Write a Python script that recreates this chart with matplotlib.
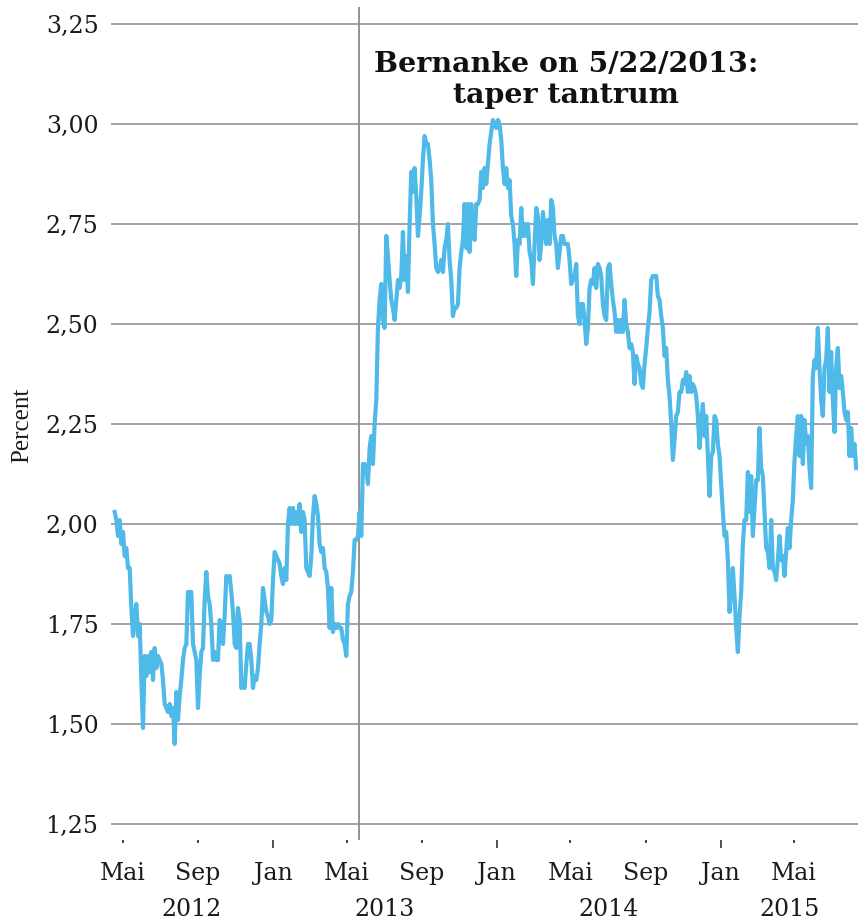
import pandas as pd
import matplotlib.pyplot as plt
import matplotlib.dates as mdates
import matplotlib.transforms as mtransforms
from matplotlib.ticker import FuncFormatter

# Rendement du 10 ans US (lecture approximative du graphique, points réguliers)
debut = "2012-04-18"
fin = "2015-08-10"
rendement = [
    2.03, 2.01, 1.97, 2.01, 1.95, 1.98, 1.92, 1.94, 1.89, 1.89,
    1.79, 1.72, 1.77, 1.80, 1.72, 1.75, 1.61, 1.49, 1.67, 1.62,
    1.67, 1.63, 1.68, 1.61, 1.69, 1.64, 1.67, 1.66, 1.65, 1.61,
    1.55, 1.54, 1.53, 1.55, 1.52, 1.54, 1.45, 1.58, 1.51, 1.57,
    1.61, 1.66, 1.69, 1.70, 1.83, 1.83, 1.83, 1.70, 1.68, 1.66,
    1.54, 1.62, 1.68, 1.69, 1.81, 1.88, 1.82, 1.80, 1.75, 1.66,
    1.68, 1.66, 1.66, 1.76, 1.75, 1.70, 1.77, 1.87, 1.86, 1.87,
    1.83, 1.78, 1.70, 1.69, 1.79, 1.76, 1.59, 1.60, 1.59, 1.65,
    1.70, 1.70, 1.66, 1.59, 1.62, 1.61, 1.64, 1.70, 1.75, 1.84,
    1.81, 1.78, 1.77, 1.75, 1.76, 1.86, 1.93, 1.92, 1.91, 1.90,
    1.87, 1.85, 1.89, 1.86, 2.00, 2.04, 2.00, 2.04, 2.00, 2.03,
    2.00, 2.05, 1.98, 2.03, 2.01, 1.89, 1.88, 1.87, 1.92, 2.02,
    2.07, 2.05, 2.02, 1.95, 1.93, 1.94, 1.89, 1.88, 1.84, 1.74,
    1.84, 1.73, 1.75, 1.74, 1.75, 1.74, 1.74, 1.71, 1.70, 1.67,
    1.80, 1.82, 1.83, 1.88, 1.96, 1.96, 1.97, 2.03, 1.97, 2.15,
    2.15, 2.14, 2.10, 2.19, 2.22, 2.15, 2.25, 2.31, 2.49, 2.56,
    2.60, 2.51, 2.49, 2.72, 2.67, 2.61, 2.56, 2.54, 2.51, 2.56,
    2.61, 2.59, 2.62, 2.73, 2.61, 2.67, 2.58, 2.75, 2.88, 2.83,
    2.89, 2.82, 2.72, 2.77, 2.83, 2.91, 2.97, 2.95, 2.95, 2.91,
    2.86, 2.75, 2.70, 2.64, 2.63, 2.64, 2.66, 2.63, 2.69, 2.71,
    2.75, 2.66, 2.61, 2.52, 2.54, 2.54, 2.55, 2.64, 2.68, 2.71,
    2.80, 2.69, 2.80, 2.68, 2.80, 2.72, 2.71, 2.80, 2.80,
    2.81, 2.88, 2.84, 2.89, 2.85, 2.90, 2.95, 2.98, 3.01, 3.00,
    2.99, 3.01, 3.00, 2.96, 2.89, 2.85, 2.89, 2.84, 2.86, 2.77,
    2.75, 2.70, 2.62, 2.71, 2.70, 2.79, 2.72, 2.75, 2.72, 2.75,
    2.68, 2.66, 2.60, 2.70, 2.79, 2.77, 2.66, 2.70, 2.78, 2.74,
    2.70, 2.76, 2.70, 2.81, 2.79, 2.72, 2.70, 2.64, 2.68, 2.72,
    2.72, 2.70, 2.70, 2.70, 2.66, 2.60, 2.61, 2.62, 2.65, 2.52,
    2.50, 2.55, 2.55, 2.51, 2.45, 2.49, 2.59, 2.61, 2.60, 2.64,
    2.59, 2.65, 2.64, 2.62, 2.55, 2.52, 2.51, 2.64, 2.65, 2.60,
    2.56, 2.53, 2.48, 2.51, 2.48, 2.51, 2.48, 2.56, 2.50, 2.48,
    2.44, 2.45, 2.43, 2.35, 2.42, 2.40, 2.39, 2.35, 2.34, 2.40,
    2.44, 2.49, 2.53, 2.61, 2.62, 2.62, 2.62, 2.57, 2.56, 2.52,
    2.49, 2.42, 2.44, 2.36, 2.32, 2.25, 2.16, 2.21, 2.27, 2.28,
    2.33, 2.33, 2.36, 2.35, 2.38, 2.33, 2.37, 2.33, 2.35, 2.34,
    2.32, 2.27, 2.19, 2.25, 2.30, 2.22, 2.27, 2.17, 2.07, 2.17,
    2.18, 2.27, 2.26, 2.20, 2.17, 2.10, 2.03, 1.97, 1.98, 1.91,
    1.78, 1.83, 1.89, 1.82, 1.74, 1.68, 1.77, 1.83, 1.95, 2.01,
    2.01, 2.13, 2.03, 2.12, 1.97, 2.04, 2.11, 2.11, 2.24, 2.14,
    2.12, 2.03, 1.94, 1.93, 1.89, 2.01, 1.89, 1.88, 1.86, 1.91,
    1.97, 1.91, 1.92, 1.87, 1.93, 1.99, 1.94, 2.01, 2.06, 2.16,
    2.22, 2.27, 2.17, 2.27, 2.15, 2.26, 2.20, 2.22, 2.14, 2.09,
    2.37, 2.41, 2.39, 2.49, 2.39, 2.31, 2.27, 2.39, 2.41, 2.49,
    2.33, 2.43, 2.31, 2.23, 2.39, 2.44, 2.34, 2.37, 2.33, 2.28,
    2.26, 2.28, 2.17, 2.24, 2.17, 2.20, 2.14,
]
dates = pd.date_range(debut, fin, periods=len(rendement))

graduations_y = [1.25, 1.50, 1.75, 2.00, 2.25, 2.50, 2.75, 3.00, 3.25]
noms_mois = {1: "Jan", 5: "Mai", 9: "Sep"}
annees = [2012, 2013, 2014, 2015]
date_evenement = "2013-05-22"
texte_evenement = "Bernanke on 5/22/2013:\ntaper tantrum"
limites_x = (pd.Timestamp("2012-04-12"), pd.Timestamp("2015-08-13"))

plt.rcParams['font.family'] = 'DejaVu Serif'

fig = plt.figure(figsize=(8.58, 9.21), dpi=100)
ax = fig.add_axes([111 / 858, 1 - 840 / 921, 1 - 111 / 858, 833 / 921])

ax.plot(dates, rendement, color="#4fb9e8", lw=3.0, solid_joinstyle='round', zorder=3)
ax.axvline(pd.Timestamp(date_evenement), color="#8a8a8a", lw=1.3, zorder=2)

ax.set_xlim(limites_x)
ax.set_ylim(1.21, 3.2925)

# axe y : virgule décimale
ax.set_yticks(graduations_y)
ax.set_yticklabels([f"{v:.2f}".replace(".", ",") for v in graduations_y])
ax.yaxis.grid(True, color="#9c9c9c", lw=1.3)
ax.set_axisbelow(True)
for s in ax.spines.values():
    s.set_visible(False)
ax.tick_params(axis='y', length=0, pad=9, labelsize=17, labelcolor="#1a1a1a")

# axe x : Jan en graduation principale, Mai / Sep en secondaire
ax.xaxis.set_major_locator(mdates.MonthLocator(bymonth=[1]))
ax.xaxis.set_minor_locator(mdates.MonthLocator(bymonth=[5, 9]))
fmt = FuncFormatter(lambda x, pos: noms_mois[mdates.num2date(x).month])
ax.xaxis.set_major_formatter(fmt)
ax.xaxis.set_minor_formatter(fmt)
ax.tick_params(axis='x', which='major', length=6, width=1.2, pad=10,
               labelsize=17, color="#333333", labelcolor="#1a1a1a")
ax.tick_params(axis='x', which='minor', length=2, width=1.3, pad=14,
               labelsize=17, color="#333333", labelcolor="#1a1a1a")

# années centrées sur la partie visible
trans = mtransforms.blended_transform_factory(ax.transData, ax.transAxes)
for an in annees:
    a = max(limites_x[0], pd.Timestamp(f"{an}-01-01"))
    b = min(limites_x[1], pd.Timestamp(f"{an + 1}-01-01"))
    milieu = a + (b - a) / 2
    ax.text(mdates.date2num(milieu), -0.0835, str(an), transform=trans,
            ha='center', va='center', fontsize=17, color="#1a1a1a")

ax.text(pd.Timestamp("2014-04-24"), 3.11, texte_evenement, ha='center', va='center',
        fontsize=20.5, fontweight='bold', linespacing=1.2, color="#111111")

fig.text(22 / 858, 1 - 425 / 921, "Percent", rotation=90, ha='center', va='center',
         family='Liberation Serif', fontsize=18, color="#1a1a1a")

plt.savefig("out.png", dpi=100)
